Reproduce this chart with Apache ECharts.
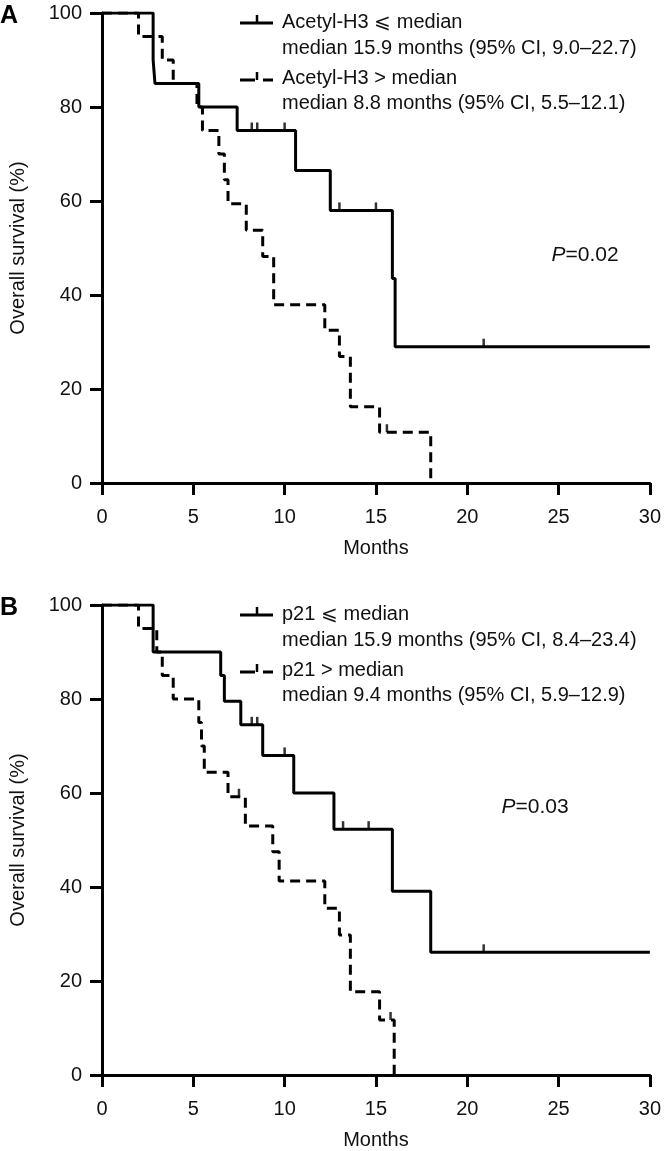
<!DOCTYPE html>
<html>
<head>
<meta charset="utf-8">
<script src="https://cdn.jsdelivr.net/npm/echarts@6/dist/echarts.min.js"></script>
<style>
html, body { margin: 0; padding: 0; background: #fff; }
#chart { width: 664px; height: 1151px; }
</style>
</head>
<body>
<div id="chart"></div>
<script>
// axis ticks
var monthTicks = [0, 5, 10, 15, 20, 25, 30];
var survTicks = [0, 20, 40, 60, 80, 100];

// panel A - acetyl-H3 <= median (solid)
var aLowT = [0, 2.8, 2.9, 5.3, 7.4, 10.6, 12.5, 15.9, 16.05, 30];
var aLowS = [100, 90, 85, 80, 75, 66.5, 58, 43.5, 29, 29];
var aLowCensT = [8.2, 8.5, 10.0, 13.0, 15.0, 20.9];
var aLowCensS = [75, 75, 75, 58, 58, 29];
// panel A - acetyl-H3 > median (dashed)
var aHighT = [0, 2.0, 3.3, 3.9, 5.2, 5.5, 6.4, 6.7, 6.9, 7.9, 8.8, 9.4, 12.2, 13.0, 13.6, 15.2, 18.0];
var aHighS = [100, 95, 90, 85, 80, 75, 70, 64.5, 59.4, 53.8, 48.2, 37.9, 32.5, 26.9, 16.2, 10.8, 0];
var aHighCensT = [15.6];
var aHighCensS = [10.8];

// panel B - p21 <= median (solid)
var bLowT = [0, 2.8, 6.5, 6.7, 7.6, 8.8, 10.5, 12.7, 15.9, 18.0, 30];
var bLowS = [100, 90, 85, 79.5, 74.5, 68, 60, 52.3, 39.1, 26.1, 26.1];
var bLowCensT = [8.2, 8.5, 10.0, 13.2, 14.6, 20.9];
var bLowCensS = [74.5, 74.5, 68, 52.3, 52.3, 26.1];
// panel B - p21 > median (dashed)
var bHighT = [0, 2.0, 3.0, 3.3, 3.9, 5.3, 5.45, 5.6, 6.9, 7.85, 9.35, 9.7, 12.2, 13.0, 13.6, 15.2, 16.0];
var bHighS = [100, 95, 90, 85, 80, 75, 70, 64.4, 59.2, 53, 47.5, 41.3, 35.5, 29.8, 17.7, 11.7, 0];
var bHighCensT = [7.5, 15.8];
var bHighCensS = [59.2, 11.7];

var legendA = ['Acetyl-H3 \u2A7D median', 'median 15.9 months (95% CI, 9.0\u201322.7)',
               'Acetyl-H3 > median', 'median 8.8 months (95% CI, 5.5\u201312.1)'];
var legendB = ['p21 \u2A7D median', 'median 15.9 months (95% CI, 8.4\u201323.4)',
               'p21 > median', 'median 9.4 months (95% CI, 5.9\u201312.9)'];
var pA = '0.02', pB = '0.03';

var FONT = '"Liberation Sans", Arial, sans-serif';

function zip(t, s) { return t.map(function (v, i) { return [v, s[i]]; }); }

function xAx(idx) {
  return {
    type: 'value', gridIndex: idx, min: monthTicks[0], max: monthTicks[monthTicks.length - 1], interval: 5,
    name: 'Months', nameLocation: 'middle', nameGap: 55,
    nameTextStyle: { color: '#111', fontSize: 20, fontFamily: FONT },
    axisLine: { lineStyle: { color: '#000', width: 3 } },
    axisTick: { length: 12, lineStyle: { color: '#000', width: 3 } },
    axisLabel: { color: '#111', fontSize: 20, fontFamily: FONT, margin: 24 },
    splitLine: { show: false }
  };
}
function yAx(idx) {
  return {
    type: 'value', gridIndex: idx, min: survTicks[0], max: survTicks[survTicks.length - 1], interval: 20,
    name: 'Overall survival (%)', nameLocation: 'middle', nameGap: 74, nameRotate: 90,
    nameTextStyle: { color: '#111', fontSize: 20, fontFamily: FONT },
    axisLine: { lineStyle: { color: '#000', width: 3 } },
    axisTick: { length: 12, lineStyle: { color: '#000', width: 3 } },
    axisLabel: { color: '#111', fontSize: 20, fontFamily: FONT, margin: 20 },
    splitLine: { show: false }
  };
}
function curve(idx, t, s, dashed) {
  return {
    type: 'line', xAxisIndex: idx, yAxisIndex: idx, step: 'end', symbol: 'none',
    data: zip(t, s), silent: true,
    lineStyle: { color: '#000', width: 3, type: dashed ? [10, 6] : 'solid' }
  };
}
function cens(idx, t, s) {
  return {
    type: 'scatter', xAxisIndex: idx, yAxisIndex: idx, data: zip(t, s),
    symbol: 'rect', symbolSize: [2.5, 8], symbolOffset: [0, -4], silent: true,
    itemStyle: { color: '#000' }
  };
}
function legendGraphic(oy, texts, p, px, py) {
  var g = [];
  g.push({ type: 'line', shape: { x1: 240, y1: oy + 23, x2: 273, y2: oy + 23 }, style: { stroke: '#000', lineWidth: 3 } });
  g.push({ type: 'line', shape: { x1: 257, y1: oy + 23, x2: 257, y2: oy + 15 }, style: { stroke: '#000', lineWidth: 2.5 } });
  g.push({ type: 'line', shape: { x1: 240, y1: oy + 80, x2: 255, y2: oy + 80 }, style: { stroke: '#000', lineWidth: 3 } });
  g.push({ type: 'line', shape: { x1: 257, y1: oy + 80, x2: 257, y2: oy + 72 }, style: { stroke: '#000', lineWidth: 2.5 } });
  g.push({ type: 'line', shape: { x1: 263, y1: oy + 80, x2: 273, y2: oy + 80 }, style: { stroke: '#000', lineWidth: 3 } });
  var ys = [22, 48, 78, 103];
  texts.forEach(function (t, i) {
    g.push({ type: 'text', x: 282, y: oy + ys[i], style: { text: t, fill: '#111', font: '20px ' + FONT, textVerticalAlign: 'middle' } });
  });
  g.push({ type: 'text', x: px, y: py, style: {
    text: '{i|P}=' + p, textVerticalAlign: 'middle', textAlign: 'center',
    rich: { i: { fontStyle: 'italic', fontSize: 21, fontFamily: FONT, fill: '#111' } },
    fill: '#111', font: '21px ' + FONT } });
  return g;
}

var chart = echarts.init(document.getElementById('chart'), null, { renderer: 'canvas' });
chart.setOption({
  animation: false,
  backgroundColor: '#fff',
  grid: [
    { left: 100, top: 13, width: 551, height: 470 },
    { left: 100, top: 605, width: 551, height: 470 }
  ],
  xAxis: [xAx(0), xAx(1)],
  yAxis: [yAx(0), yAx(1)],
  series: [
    curve(0, aLowT, aLowS, false), curve(0, aHighT, aHighS, true),
    cens(0, aLowCensT, aLowCensS), cens(0, aHighCensT, aHighCensS),
    curve(1, bLowT, bLowS, false), curve(1, bHighT, bHighS, true),
    cens(1, bLowCensT, bLowCensS), cens(1, bHighCensT, bHighCensS)
  ],
  graphic: [
    { type: 'text', x: 0, y: 4, style: { text: 'A', fill: '#000', font: 'bold 25px ' + FONT } },
    { type: 'text', x: 0, y: 596, style: { text: 'B', fill: '#000', font: 'bold 25px ' + FONT } }
  ].concat(legendGraphic(0, legendA, pA, 585, 255)).concat(legendGraphic(592, legendB, pB, 535, 807))
});
</script>
</body>
</html>
